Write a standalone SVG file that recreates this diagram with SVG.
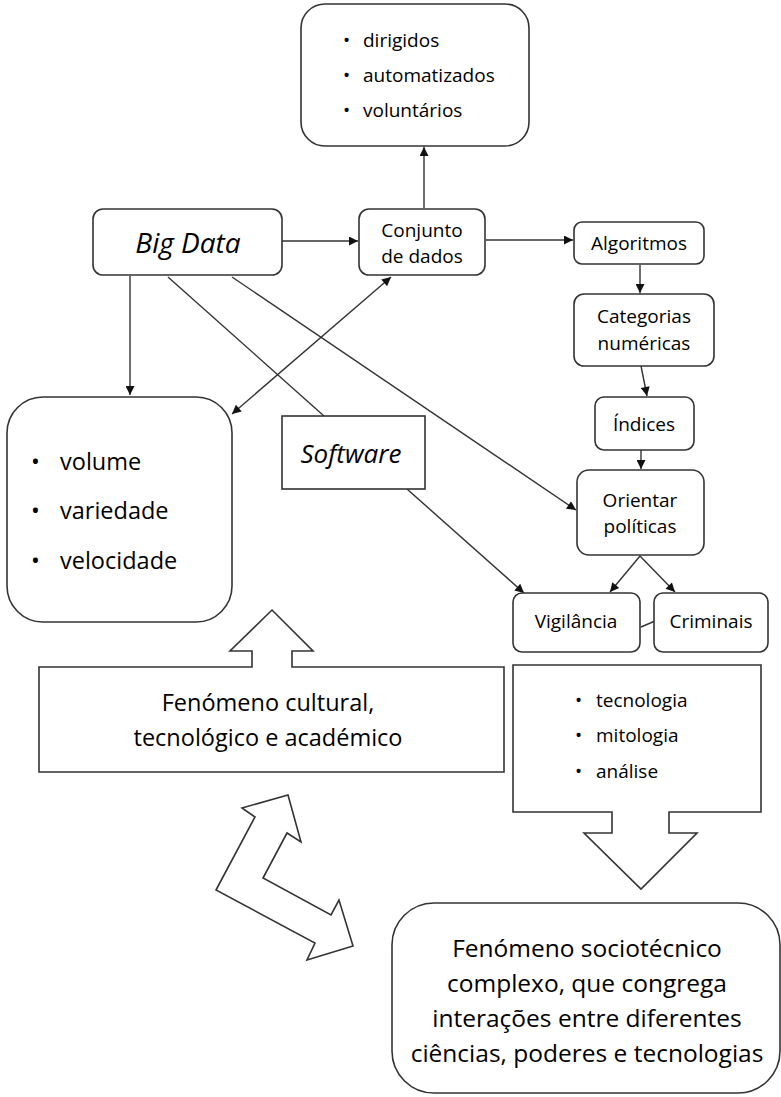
<svg xmlns="http://www.w3.org/2000/svg" width="781" height="1097" viewBox="0 0 781 1097">
<defs>
<marker id="ah" viewBox="0 0 10 10" refX="10" refY="5" markerWidth="11" markerHeight="9" markerUnits="userSpaceOnUse" orient="auto-start-reverse">
<path d="M0,0 L10,5 L0,10 Z" fill="#111"/>
</marker>
</defs>
<style>
.box{fill:#fff;stroke:#333;stroke-width:1.6}
.ln{fill:none;stroke:#333;stroke-width:1.4}
.t{font-family:"Open Sans","Noto Sans",sans-serif;fill:#000;font-weight:500}
.c{text-anchor:middle}
.i{font-style:italic}
</style>
<rect width="781" height="1097" fill="#fff"/>
<g id="connectors">
<line class="ln" x1="424" y1="208" x2="424" y2="147" marker-end="url(#ah)"/>
<line class="ln" x1="282" y1="241" x2="358" y2="241" marker-end="url(#ah)"/>
<line class="ln" x1="486" y1="240" x2="573" y2="240" marker-end="url(#ah)"/>
<line class="ln" x1="640" y1="265" x2="640" y2="293" marker-end="url(#ah)"/>
<line class="ln" x1="641" y1="366" x2="647" y2="396" marker-end="url(#ah)"/>
<line class="ln" x1="641" y1="450" x2="641" y2="469" marker-end="url(#ah)"/>
<line class="ln" x1="640" y1="556" x2="610" y2="592" marker-end="url(#ah)"/>
<line class="ln" x1="640" y1="556" x2="675" y2="592" marker-end="url(#ah)"/>
<line class="ln" x1="641" y1="627" x2="655" y2="621"/>
<line class="ln" x1="130" y1="276" x2="130" y2="395" marker-end="url(#ah)"/>
<line class="ln" x1="232" y1="277" x2="576" y2="510" marker-end="url(#ah)"/>
<line class="ln" x1="168" y1="277" x2="324" y2="416"/>
<line class="ln" x1="407" y1="489" x2="524" y2="593" marker-end="url(#ah)"/>
<line class="ln" x1="391" y1="277" x2="232" y2="414" marker-start="url(#ah)" marker-end="url(#ah)"/>
</g>
<g id="tipos">
<rect class="box" x="301" y="4" width="228" height="142" rx="24"/>
<text class="t" font-size="19"><tspan x="343" y="47">•</tspan><tspan x="363" y="47">dirigidos</tspan><tspan x="343" y="82">•</tspan><tspan x="363" y="82">automatizados</tspan><tspan x="343" y="117">•</tspan><tspan x="363" y="117">voluntários</tspan></text>
</g>
<g id="bigdata">
<rect class="box" x="93" y="209" width="189" height="66" rx="10"/>
<text class="t c i" x="188" y="253" font-size="28">Big Data</text>
</g>
<g id="conjunto">
<rect class="box" x="359" y="209" width="126" height="66" rx="10"/>
<text class="t c" x="422" y="237" font-size="19">Conjunto</text>
<text class="t c" x="422" y="263" font-size="19">de dados</text>
</g>
<g id="algoritmos">
<rect class="box" x="574" y="222" width="130" height="42" rx="8"/>
<text class="t c" x="639" y="250" font-size="19">Algoritmos</text>
</g>
<g id="categorias">
<rect class="box" x="574" y="294" width="140" height="72" rx="10"/>
<text class="t c" x="644" y="323" font-size="19">Categorias</text>
<text class="t c" x="644" y="350" font-size="19">numéricas</text>
</g>
<g id="indices">
<rect class="box" x="595" y="397" width="99" height="53" rx="9"/>
<text class="t c" x="644" y="431" font-size="19">Índices</text>
</g>
<g id="orientar">
<rect class="box" x="577" y="470" width="127" height="85" rx="12"/>
<text class="t c" x="640" y="507" font-size="19">Orientar</text>
<text class="t c" x="640" y="533" font-size="19">políticas</text>
</g>
<g id="vigilancia">
<rect class="box" x="513" y="593" width="127" height="59" rx="9"/>
<text class="t c" x="576" y="628" font-size="19">Vigilância</text>
</g>
<g id="criminais">
<rect class="box" x="654" y="593" width="114" height="59" rx="9"/>
<text class="t c" x="711" y="628" font-size="19">Criminais</text>
</g>
<g id="volume">
<rect class="box" x="7" y="397" width="225" height="225" rx="36"/>
<text class="t" font-size="23.5"><tspan x="31" y="470">•</tspan><tspan x="60" y="470">volume</tspan><tspan x="31" y="519">•</tspan><tspan x="60" y="519">variedade</tspan><tspan x="31" y="569">•</tspan><tspan x="60" y="569">velocidade</tspan></text>
</g>
<g id="software">
<rect class="box" x="282" y="416" width="143" height="73"/>
<text class="t c i" x="351" y="463" font-size="26">Software</text>
</g>
<g id="cultural">
<path class="box" d="M39,667 L252,667 L252,651 L230,651 L272,610 L313,651 L292,651 L292,667 L504,667 L504,772 L39,772 Z"/>
<text class="t c" x="268" y="711" font-size="23.5">Fenómeno cultural,</text>
<text class="t c" x="268" y="746" font-size="23.5">tecnológico e académico</text>
</g>
<g id="tecnologia">
<path class="box" d="M513,665 L761,665 L761,812 L669,812 L669,833 L697,833 L641,889 L584,833 L612,833 L612,812 L513,812 Z"/>
<text class="t" font-size="19"><tspan x="575" y="707">•</tspan><tspan x="596" y="707">tecnologia</tspan><tspan x="575" y="742">•</tspan><tspan x="596" y="742">mitologia</tspan><tspan x="575" y="778">•</tspan><tspan x="596" y="778">análise</tspan></text>
</g>
<g id="setadupla">
<path class="box" d="M242,808 L288,795 L301,842 L287,833 L263,878 L331,915 L339,900 L353,946 L307,960 L315,943 L216,890 L255,817 Z"/>
</g>
<g id="sociotecnico">
<rect class="box" x="392" y="903" width="388" height="190" rx="42"/>
<text class="t c" x="587" y="957" font-size="24.5">Fenómeno sociotécnico</text>
<text class="t c" x="587" y="992" font-size="24.5">complexo, que congrega</text>
<text class="t c" x="587" y="1027" font-size="24.5">interações entre diferentes</text>
<text class="t c" x="587" y="1062" font-size="24.5">ciências, poderes e tecnologias</text>
</g>
</svg>
